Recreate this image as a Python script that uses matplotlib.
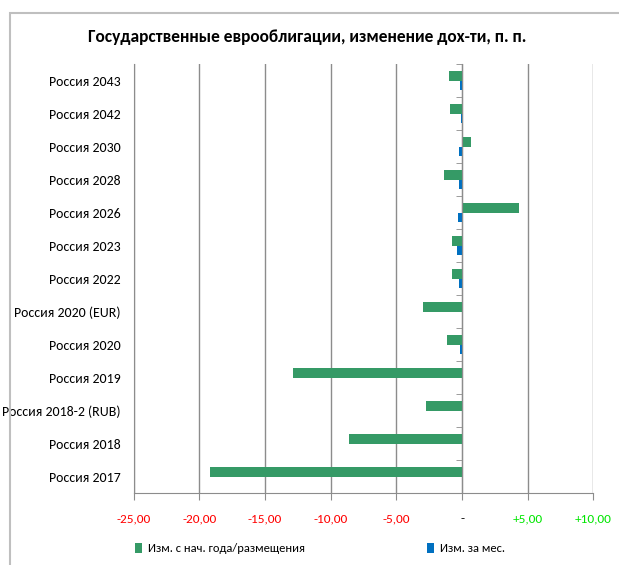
import matplotlib.pyplot as plt
import numpy as np
from matplotlib.patches import Rectangle

bonds = ['Россия 2043', 'Россия 2042', 'Россия 2030', 'Россия 2028', 'Россия 2026',
         'Россия 2023', 'Россия 2022', 'Россия 2020 (EUR)', 'Россия 2020', 'Россия 2019',
         'Россия 2018-2 (RUB)', 'Россия 2018', 'Россия 2017']
ytd_change = [-1.0, -0.95, 0.7, -1.4, 4.3, -0.78, -0.78, -3.0, -1.12, -12.9, -2.72, -8.6, -19.2]
month_change = [-0.19, -0.1, -0.24, -0.22, -0.32, -0.37, -0.22, -0.03, -0.16, 0.0, 0.0, 0.0, 0.0]
xtick_values = [-25, -20, -15, -10, -5, 0, 5, 10]
xtick_labels = ['-25,00', '-20,00', '-15,00', '-10,00', '-5,00', '-', '+5,00', '+10,00']

# Carlito is metric-compatible with Calibri
plt.rcParams['font.family'] = ['Carlito', 'Fira Sans Condensed', 'DejaVu Sans']

green = '#359A66'
blue = '#0070C0'
grey = '#8c8c8c'

fig = plt.figure(figsize=(6.19, 5.65), dpi=100)
ax = fig.add_axes([0.2157, 0.1274, 0.743, 0.7593])

y = np.arange(len(bonds))
h = 0.285
ax.barh(y - h / 2, ytd_change, height=h, color=green, label='Изм. с нач. года/размещения', zorder=3)
ax.barh(y + h / 2, month_change, height=h, color=blue, label='Изм. за мес.', zorder=3)

ax.set_xlim(-25, 10)
ax.set_ylim(len(bonds) - 0.5, -0.5)

ax.set_xticks(xtick_values)
ax.set_xticklabels(xtick_labels, fontsize=9.5)
for lbl, v in zip(ax.get_xticklabels(), xtick_values):
    if v < 0:
        lbl.set_color('#ff0000')
    elif v > 0:
        lbl.set_color('#00e600')
    else:
        lbl.set_color('black')
ax.tick_params(axis='x', direction='out', length=5, color=grey, pad=9.5)

ax.set_yticks(y)
ax.set_yticklabels(bonds, fontsize=7.7)
ax.set_yticks(np.arange(len(bonds) + 1) - 0.5, minor=True)
ax.tick_params(axis='y', which='major', left=False, right=False, labelleft=True, pad=6)
ax.tick_params(axis='y', which='minor', left=False, right=True, direction='in', length=4, color=grey)

ax.grid(axis='x', color=grey, linewidth=1, zorder=0)
ax.spines['top'].set_visible(False)
ax.spines['left'].set_color(grey)
ax.spines['bottom'].set_color(grey)
ax.spines['right'].set_position(('data', 0))
ax.spines['right'].set_color(grey)
ax.spines['right'].set_zorder(4)

fig.text(0.497, 0.934, 'Государственные еврооблигации, изменение дох-ти, п. п.',
         ha='center', va='center', fontsize=12.5, fontweight='bold')

fig.legend(loc='center', bbox_to_anchor=(0.517, 0.029), ncol=2, frameon=False,
           fontsize=9, handlelength=0.55, handleheight=0.85, handletextpad=0.45,
           columnspacing=9.8)

fig.patches.append(Rectangle((10 / 619, -0.1), 1.2, 1.1 - 13 / 565, transform=fig.transFigure,
                             fill=False, edgecolor='#bfbfbf', linewidth=1.5))

plt.savefig('out.png', dpi=100)
